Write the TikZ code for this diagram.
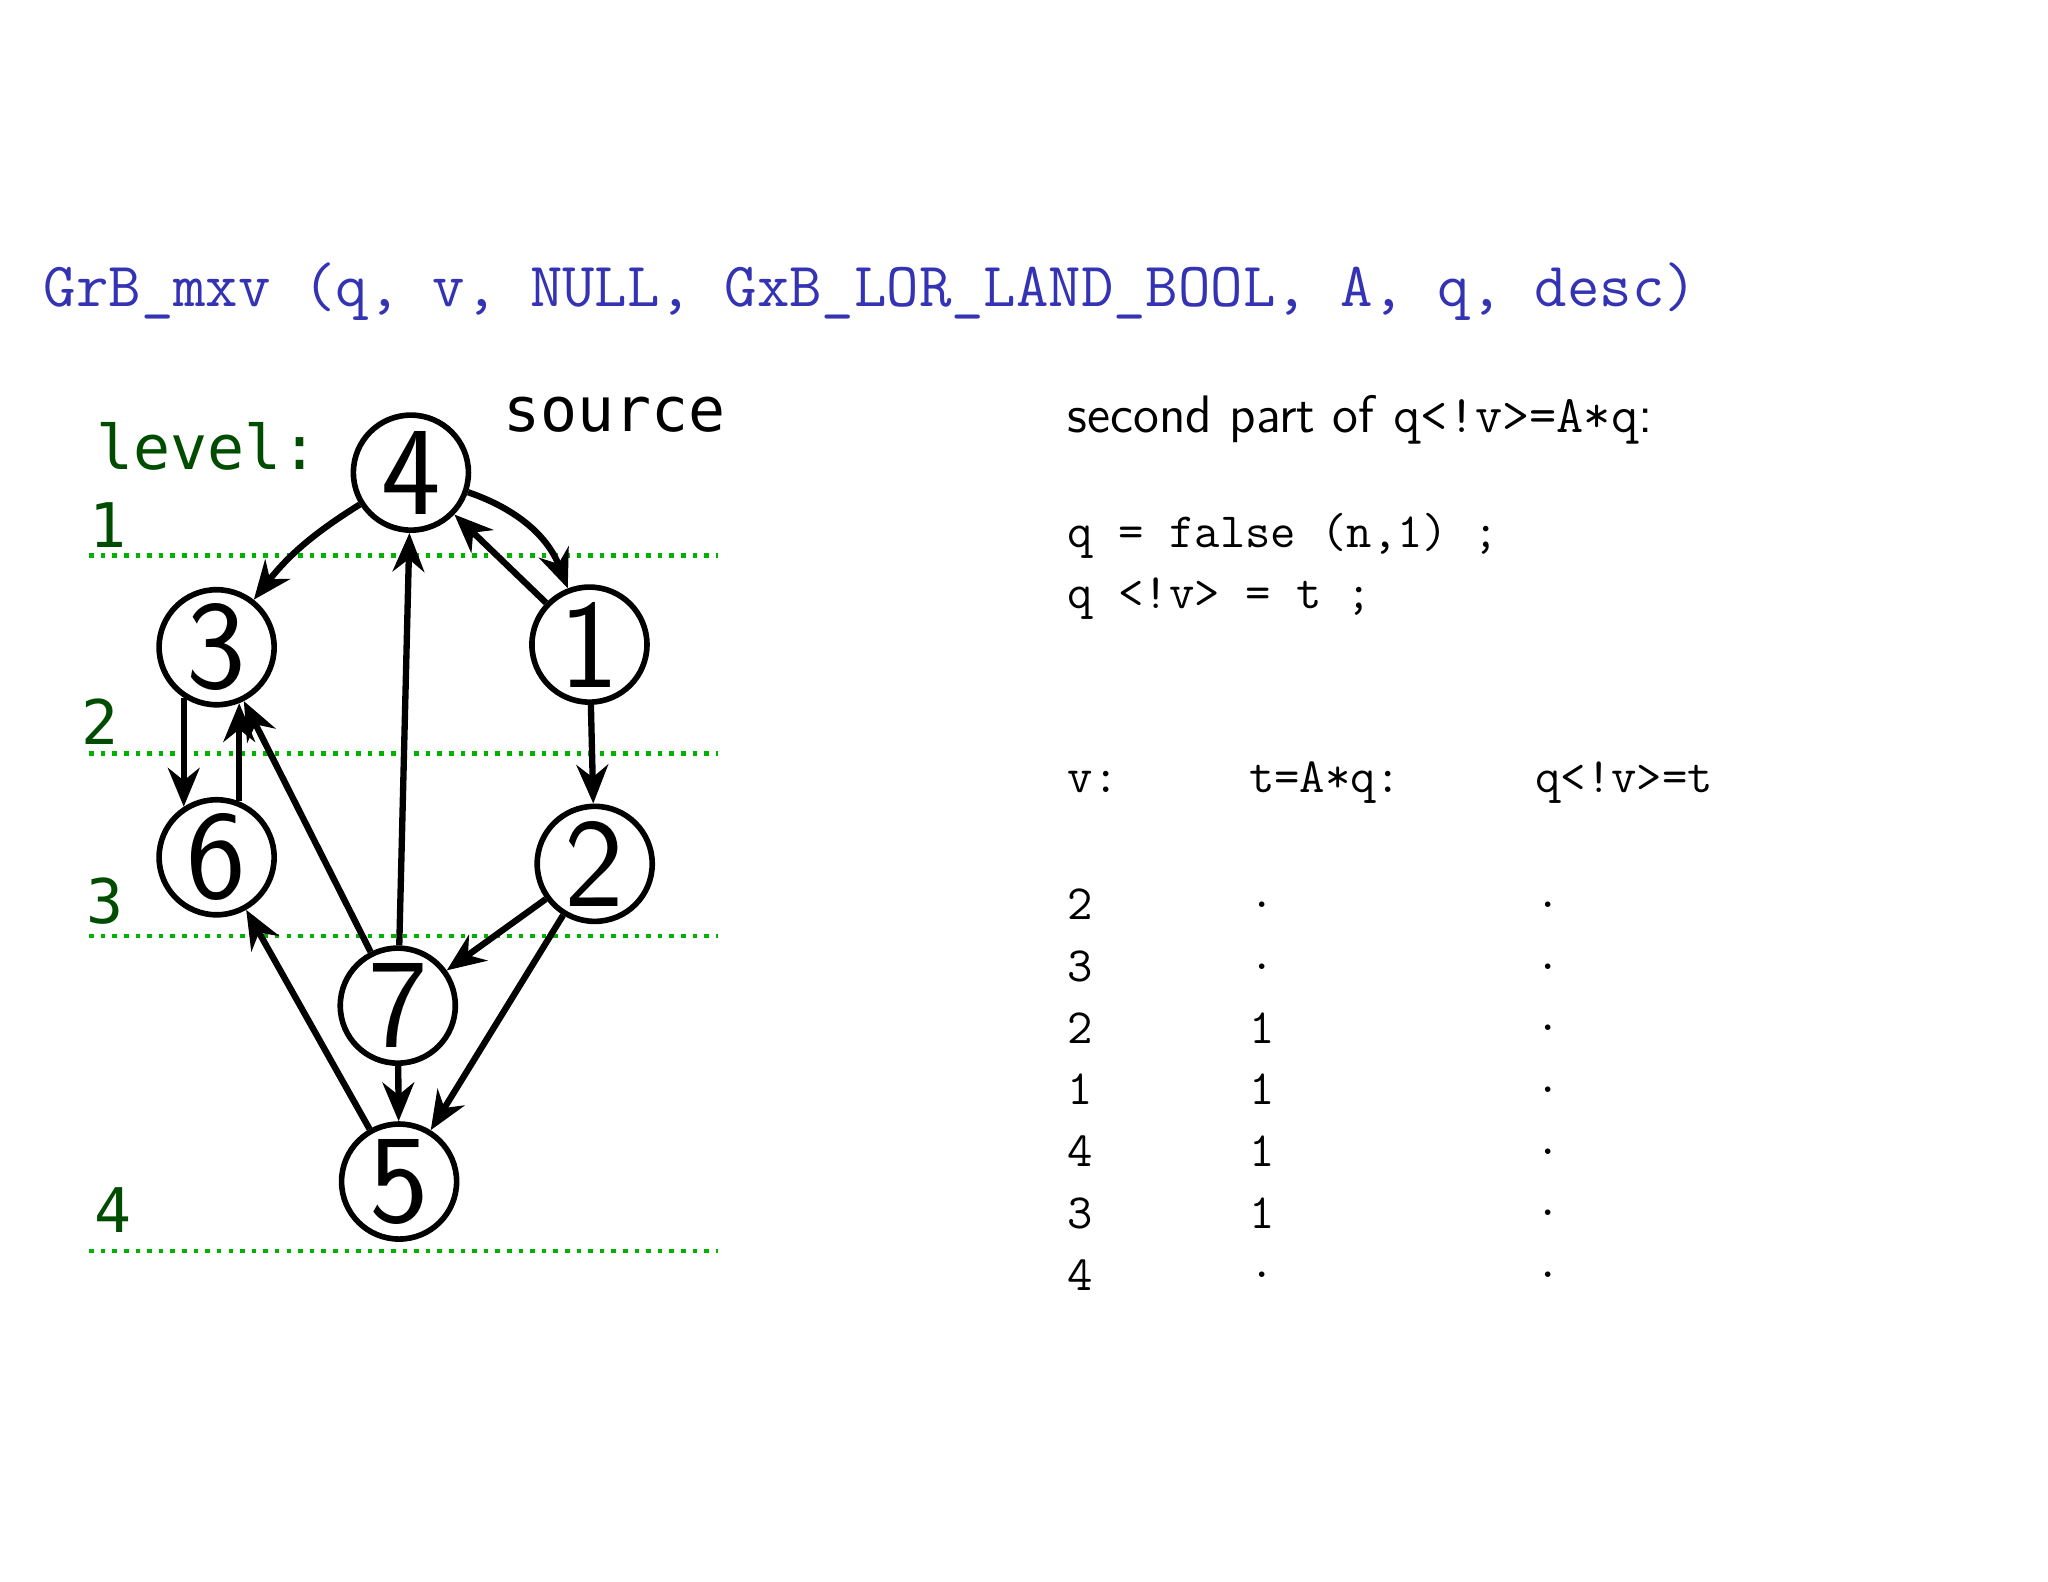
\documentclass[tikz,border=0pt]{standalone}
\usepackage{fontspec}
\usetikzlibrary{arrows.meta}
\newfontfamily\lvlfont{DejaVu Sans Mono}
\definecolor{titleblue}{RGB}{51,51,179}
\tikzset{
  vtx/.style={circle,draw,line width=1.6pt,minimum size=1.15cm,inner sep=0pt,
    font=\sffamily\fontsize{36}{36}\selectfont},
  edge/.style={line width=1.8pt,-{Stealth[length=11pt,width=9pt]}},
  lvl/.style={green!70!black,dotted,line width=1.3pt},
  lvltxt/.style={text=green!30!black,font=\lvlfont\fontsize{17.5}{18}\selectfont},
  code/.style={anchor=west,font=\ttfamily\fontsize{14}{16}\selectfont}
}
\begin{document}
\begin{tikzpicture}[x=0.01313cm,y=-0.01313cm]
    \useasboundingbox (0,0) rectangle (1560,1205);
    % title
    \node[anchor=west,text=titleblue,font=\ttfamily\fontsize{17.9}{20}\selectfont] (title) at (24,222)
      {GrB\_mxv (q, v, NULL, GxB\_LOR\_LAND\_BOOL, A, q, desc)};
    % level lines
    \foreach \y in {423,574,713,953}
      \draw[lvl] (68,\y) -- (547,\y);
    \node[lvltxt,anchor=west] (lev) at (64,340) {level:};
    \node[lvltxt] (l1) at (82,400) {1};
    \node[lvltxt] (l2) at (76,550) {2};
    \node[lvltxt] (l3) at (80,686) {3};
    \node[lvltxt] (l4) at (86,922) {4};
    \node[font=\lvlfont\fontsize{17.5}{18}\selectfont] (src) at (468,316) {source};
    % graph
    \node[vtx] (n4) at (313,360) {4};
    \node[vtx] (n3) at (165,493) {3};
    \node[vtx] (n1) at (449,491) {1};
    \node[vtx] (n6) at (165,653) {6};
    \node[vtx] (n2) at (453,658) {2};
    \node[vtx] (n7) at (303,766) {7};
    \node[vtx] (n5) at (304,900) {5};
    \draw[edge] (n4) to[bend right=10] (n3);
    \draw[edge] (n4) to[bend left=25] (n1);
    \draw[edge] (n1) -- (n4);
    \draw[edge] (n7) -- (n4);
    \draw[edge] (n3.237) -- (n6.123);
    \draw[edge] (n6.68) -- (n3.292);
    \draw[edge] (n7) -- (n3);
    \draw[edge] (n1) -- (n2);
    \draw[edge] (n2) -- (n7);
    \draw[edge] (n2) -- (n5);
    \draw[edge] (n7) -- (n5);
    \draw[edge] (n5) -- (n6);
    % text on the right
    \node[anchor=west,font=\sffamily\fontsize{15}{18}\selectfont] (head) at (804,320)
      {second part of \texttt{q<!v>=A*q}:};
    \node[code] (c1) at (804,408) {q = false (n,1) ;};
    \node[code] (c2) at (804,456) {q <!v> = t ;};
    \node[code] (hv) at (804,596) {v:};
    \node[code] (ht) at (942,596) {t=A*q:};
    \node[code] (hq) at (1160,596) {q<!v>=t};
    \foreach \v/\t [count=\i] in {2/.,3/.,2/1,1/1,4/1,3/1,4/.}{
      \node[code] (v\i) at (804,642+47*\i) {\v};
      \node[code] (t\i) at (942,642+47*\i) {\t};
      \node[code] (q\i) at (1160,642+47*\i) {.};
    }
\end{tikzpicture}
\end{document}
